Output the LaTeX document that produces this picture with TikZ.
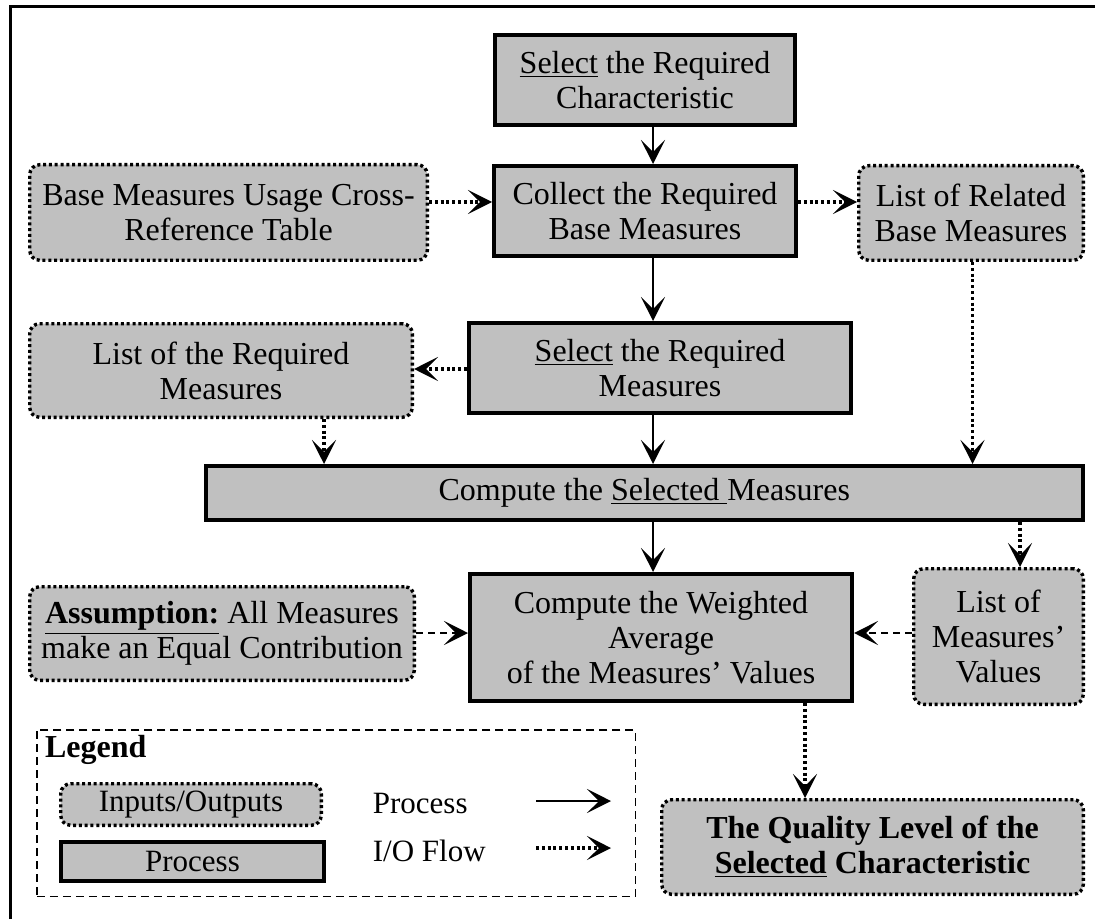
\documentclass[tikz,border=0pt]{standalone}
\usepackage{fontspec}
\setmainfont{Liberation Serif}
\usetikzlibrary{arrows.meta}
\definecolor{boxgray}{HTML}{C0C0C0}

\tikzset{
  basebox/.style={fill=boxgray, align=center, inner sep=0pt,
    font=\fontsize{16}{17.6}\selectfont},
  procbox/.style={basebox, draw, line width=1.9pt},
  iobox/.style={basebox, draw, line width=1.7pt, dash pattern=on 1.5pt off 1.4pt,
    rounded corners=5pt},
  tiphead/.style={-{Stealth[length=12pt,width=12pt,inset=6pt]}},
  procflow/.style={tiphead, line width=1.3pt},
  ioflow/.style={tiphead, line width=1.7pt, dash pattern=on 1.5pt off 1.4pt},
  iodash/.style={tiphead, line width=1.3pt, dash pattern=on 3.5pt off 2.5pt},
  legendtext/.style={anchor=west, inner sep=0pt, font=\fontsize{15.5}{17.6}\selectfont},
}

\begin{document}
\begin{tikzpicture}[x=0.5pt, y=-0.5pt]
\useasboundingbox (0,0) rectangle (1095,919);

% outer frame (top and left edges)
\draw[line width=1.5pt] (10.7,919) -- (10.7,7) -- (1095,7);

% process boxes
\node[procbox, minimum width=150.1pt, minimum height=45.1pt] (sc) at (645,80)
  {\underline{Select} the Required\\Characteristic};
\node[procbox, minimum width=151.1pt, minimum height=45.1pt] (cb) at (645,211)
  {Collect the Required\\Base Measures};
\node[procbox, minimum width=191.1pt, minimum height=45.1pt] (sm) at (660,368)
  {\underline{Select} the Required\\Measures};
\node[procbox, minimum width=438.6pt, minimum height=27.1pt] (cs) at (644.3,493)
  {Compute the \underline{Selected\ }Measures};
\node[procbox, minimum width=191.1pt, minimum height=63.6pt] (wa) at (661,637.5)
  {Compute the Weighted\\Average\\of the Measures' Values};

% inputs / outputs
\node[iobox, minimum width=198.8pt, minimum height=47.8pt] (bm) at (228.5,212.5)
  {Base Measures Usage Cross-\\Reference Table};
\node[iobox, minimum width=112.3pt, minimum height=47.3pt] (lr) at (971,213)
  {List of Related\\Base Measures};
\node[iobox, minimum width=191.3pt, minimum height=46.8pt] (lq) at (221,370.5)
  {List of the Required\\Measures};
\node[iobox, minimum width=84.8pt, minimum height=67.8pt] (mv) at (998.5,636.5)
  {List of\\Measures'\\Values};
\node[iobox, minimum width=192.3pt, minimum height=46.8pt] (as) at (222,633.5)
  {\underline{\textbf{Assumption:}} All Measures\\make an Equal Contribution};
\node[iobox, minimum width=210.8pt, minimum height=47.3pt,
  font=\fontsize{16}{17.6}\selectfont\bfseries] (ql) at (872.5,847)
  {The Quality Level of the\\\underline{Selected} Characteristic};

% guide lines for the connectors
\coordinate (spine) at (653,0);
\coordinate (rowa) at (0,202);
\coordinate (rowb) at (0,369);
\coordinate (rowc) at (0,633);
\coordinate (colq) at (324,0);
\coordinate (colr) at (972.5,0);
\coordinate (colv) at (1020,0);
\coordinate (colw) at (805,0);

% process flow
\draw[procflow] (sc.south -| spine) -- (cb.north -| spine);
\draw[procflow] (cb.south -| spine) -- (sm.north -| spine);
\draw[procflow] (sm.south -| spine) -- (cs.north -| spine);
\draw[procflow] (cs.south -| spine) -- (wa.north -| spine);

% input / output flow
\draw[ioflow] (bm.east |- rowa) -- (cb.west |- rowa);
\draw[ioflow] (cb.east |- rowa) -- (lr.west |- rowa);
\draw[ioflow] (sm.west |- rowb) -- (lq.east |- rowb);
\draw[ioflow] (lq.south -| colq) -- (cs.north -| colq);
\draw[ioflow] (lr.south -| colr) -- (cs.north -| colr);
\draw[ioflow] (cs.south -| colv) -- (mv.north -| colv);
\draw[ioflow] (wa.south -| colw) -- (ql.north -| colw);
\draw[iodash] (as.east |- rowc) -- (wa.west |- rowc);
\draw[iodash] (mv.west |- rowc) -- (wa.east |- rowc);

% legend
\node[draw, line width=0.75pt, dash pattern=on 4pt off 2.5pt, minimum width=299.25pt,
  minimum height=83.25pt, inner sep=0pt] (legend) at (336,813) {};
\node[legendtext, font=\fontsize{16}{17.6}\selectfont\bfseries] (legendtitle) at (44.6,750) {Legend};
\node[iobox, minimum width=130.3pt, minimum height=20.8pt,
  font=\fontsize{15.5}{17.6}\selectfont] (legio) at (191,804.5) {Inputs/Outputs};
\node[procbox, minimum width=131.6pt, minimum height=19.6pt,
  font=\fontsize{15.5}{17.6}\selectfont] (legproc) at (192.5,861.5) {Process};
\node[legendtext] (legproctext) at (372.5,803) {Process};
\node[legendtext] (legiotext) at (372.5,851) {I/O Flow};
\coordinate (pa) at (536,801);
\coordinate (pb) at (611,801);
\coordinate (qa) at (536,848);
\coordinate (qb) at (611,848);
\draw[procflow] (pa) -- (pb);
\draw[ioflow] (qa) -- (qb);
\end{tikzpicture}
\end{document}
